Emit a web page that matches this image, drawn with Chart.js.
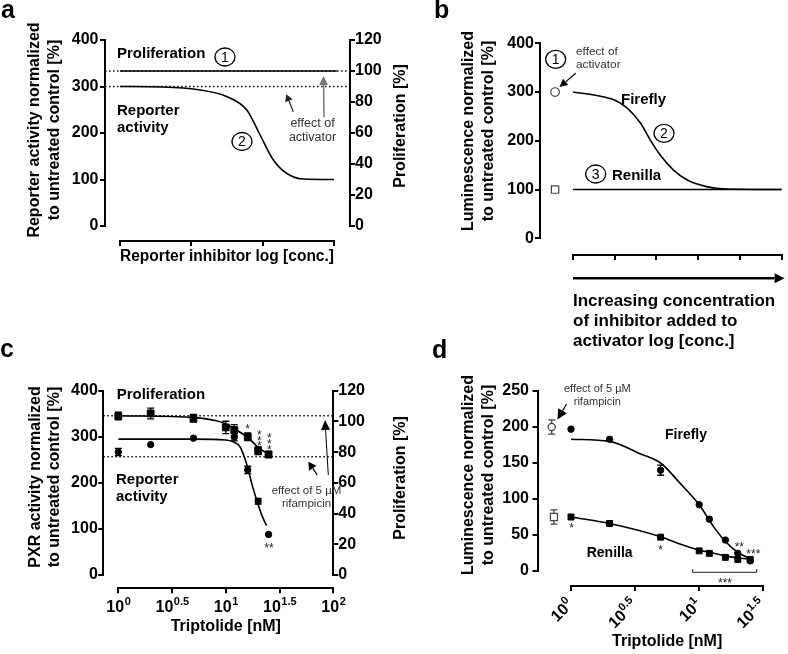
<!DOCTYPE html>
<html>
<head>
<meta charset="utf-8">
<script src="https://cdn.jsdelivr.net/npm/chart.js@4.4.0/dist/chart.umd.min.js"></script>
<style>
  html, body { margin: 0; padding: 0; background: #fff; }
  #page { position: relative; width: 788px; height: 654px; overflow: hidden; }
  canvas { position: absolute; }
</style>
</head>
<body>
<div id="page">
  <canvas id="chartA" width="420" height="320" style="left:0;top:0"></canvas>
  <canvas id="chartB" width="368" height="360" style="left:420px;top:0"></canvas>
  <canvas id="chartC" width="420" height="324" style="left:0;top:330px"></canvas>
  <canvas id="chartD" width="368" height="324" style="left:420px;top:330px"></canvas>
</div>
<script>
// ---- panel a (schematic, x in arbitrary log units) ----
const aLogConc = [0, 0.6, 1.1, 1.5, 1.78, 1.95, 2.15, 2.33, 2.57, 3];
const aReporter = [300, 299, 293, 278, 249, 200, 142, 114, 101, 100];
const aProlifSpan = [0, 3.04];
const aProlif = [100, 100];
const aRefSpan = [-0.21, 3.224];
const aActivatorLevel = 300;   // left axis
const aProlifLevel = 100;      // right axis
const aXTicks = [0, 1, 2, 3];
const aLeftTicks = [0, 100, 200, 300, 400];
const aRightTicks = [0, 20, 40, 60, 80, 100, 120];

// ---- panel b (schematic) ----
const bLogConc = [0, 0.5, 0.98, 1.3, 1.62, 1.85, 2.09, 2.41, 2.73, 3.2, 3.68, 5];
const bFirefly = [300, 294, 284, 267, 236, 202, 171, 140, 120, 106, 101, 100];
const bRenillaSpan = [0, 5];
const bRenilla = [100, 100];
const bActivatorX = [-0.43];
const bActivatorFirefly = [300];
const bActivatorRenilla = [100];
const bXTicks = [0, 1, 2, 3, 4, 5];
const bYTicks = [0, 100, 200, 300, 400];

// ---- panel c (triptolide, PXR reporter + proliferation) ----
const cDoseTicks = [1, Math.pow(10, 0.5), 10, Math.pow(10, 1.5), 100];
const cReporterDose = [1, 2, 5, 12, 16, 20, 25];
const cReporter = [267, 283, 297, 299, 228, 160, 88];
const cReporterErr = [8, 0, 0, 8, 8, 6, 0];
const cProlifDose = [1, 2, 5, 10, 12, 16, 20, 25];
const cProlif = [103.5, 105.2, 102, 96.1, 94.4, 90, 80.9, 78.5];
const cProlifErr = [2.5, 3.5, 2.5, 4, 3.5, 2.5, 2.5, 2];
const cReporterFitDose = [1, 5, 10, 11.7, 13.5, 15.1, 16.2, 17.6, 19.4, 21.6, 24];
const cReporterFit = [295, 295, 293, 289, 279, 252, 228, 195, 162, 130, 107];
const cProlifFitDose = [1, 5.1, 8.2, 10, 12, 16, 20, 25.2];
const cProlifFit = [103.7, 102.5, 100.4, 98.3, 95.2, 89.6, 83.1, 78.5];
const cRefSpan = [0.725, 100];
const cRefLevels = [103.7, 77.0];  // right axis
const cLeftTicks = [0, 100, 200, 300, 400];
const cRightTicks = [0, 20, 40, 60, 80, 100, 120];

// ---- panel d (triptolide, dual luciferase) ----
const dDoseTicks = [1, Math.pow(10, 0.5), 10, Math.pow(10, 1.5)];
const dDose = [1, 2, 5, 10, 12, 16, 20, 25];
const dFirefly = [197, 183, 140, 92, 72, 43, 24.5, 14];
const dFireflyErr = [0, 0, 7, 0, 0, 0, 0, 0];
const dRenilla = [75, 66, 47, 28, 24.5, 19, 16, 16];
const dFireflyFitDose = [1, 2, 3.45, 5, 7.08, 10, 12.9, 16, 20, 24.6];
const dFireflyFit = [183, 180, 163, 150, 122, 92, 62, 41, 26, 17.6];
const dRenillaFitDose = [1, 2, 5, 7.08, 10, 12, 16, 20, 24.6];
const dRenillaFit = [75, 66, 47.6, 37.5, 29, 26, 21, 18, 16.7];
const dRifFireflyDose = [0.707];
const dRifFirefly = [200];
const dRifRenillaDose = [0.736];
const dRifRenilla = [75];
const dRifErr = [10];
const dYTicks = [0, 50, 100, 150, 200, 250];

const FONT = "'Liberation Sans', Arial, Helvetica, sans-serif";
Chart.defaults.font.family = FONT;
Chart.defaults.color = '#000';

function xy(xs, ys) { return xs.map((x, i) => ({ x: x, y: ys[i] })); }

function valueAxis(o) {
  const vertical = o.position === 'left' || o.position === 'right';
  return {
    type: o.type || 'linear', position: o.position, min: o.min, max: o.max, weight: 1,
    afterBuildTicks: s => { s.ticks = o.ticks.map(v => ({ value: v })); },
    afterFit: s => { if (vertical) s.width = o.size; else s.height = o.size; },
    grid: { display: true, drawOnChartArea: false, drawTicks: true, tickLength: 5, lineWidth: 2, color: '#000' },
    border: { display: true, width: 2, color: '#000' },
    ticks: { display: o.labels !== false, color: '#000', font: { family: FONT, size: 16, weight: 'bold' },
      padding: o.pad === undefined ? 1.5 : o.pad, autoSkip: false, maxRotation: 0 },
    title: o.title || { display: false }
  };
}
// empty box that pushes an axis away from the plot, GraphPad style
function gap(position, size) {
  const vertical = position === 'left' || position === 'right';
  return {
    type: 'linear', position, weight: 0, axis: vertical ? 'y' : 'x',
    grid: { display: false }, border: { display: false }, ticks: { display: false },
    afterFit: s => { if (vertical) s.width = size; else s.height = size; }
  };
}
function xTitle(text, padBottom, size, lh, align) {
  return { display: true, text, align: align || 'center', color: '#000',
    font: { family: FONT, size: size || 16, weight: 'bold', lineHeight: lh || 1.2 },
    padding: { top: 0, bottom: padBottom } };
}
function curve(data, yAxisID, extra) {
  return Object.assign({ data, yAxisID, xAxisID: 'x', borderColor: '#000', borderWidth: 1.6,
    pointRadius: 0, cubicInterpolationMode: 'monotone', fill: false, clip: false }, extra || {});
}
function dotted(data, yAxisID) {
  return curve(data, yAxisID, { borderDash: [1.6, 2.4], borderWidth: 1.6, borderColor: '#111',
    cubicInterpolationMode: 'default', tension: 0 });
}
function markers(data, yAxisID, style, r, extra) {
  return Object.assign({ data, yAxisID, xAxisID: 'x', showLine: false, pointStyle: style, pointRadius: r,
    backgroundColor: '#000', borderColor: '#000', borderWidth: 1, clip: false }, extra || {});
}
// control symbols left of the dose axis (outside the plot area)
function outsideMarkers(data, style, r, errs) {
  return markers(data, 'y', style, r, { backgroundColor: '#fff', borderColor: '#444', borderWidth: 1.2,
    outside: true, errors: errs, errorColor: '#444' });
}
function options(top, right, scales) {
  return {
    responsive: false, animation: false, devicePixelRatio: 1, events: [],
    layout: { padding: { left: 0, top: top, right: right, bottom: 0 } },
    plugins: { legend: { display: false }, tooltip: { enabled: false } },
    scales
  };
}

// ---- drawing helpers (page coordinates) ----
function text(ctx, str, x, y, o) {
  o = o || {};
  ctx.save();
  ctx.font = (o.weight || 'bold') + ' ' + (o.size || 15) + 'px ' + FONT;
  ctx.fillStyle = o.color || '#000';
  ctx.textAlign = o.align || 'left';
  ctx.textBaseline = o.baseline || 'middle';
  ctx.fillText(str, x, y);
  ctx.restore();
}
function note(ctx, str, x, y, size, align) {
  text(ctx, str, x, y, { weight: 'normal', size: size, align: align || 'center', color: '#333' });
}
function vtext(ctx, lines, x, y, lh) {
  ctx.save();
  ctx.translate(x, y);
  ctx.rotate(-Math.PI / 2);
  ctx.font = 'bold 16px ' + FONT;
  ctx.fillStyle = '#000';
  ctx.textAlign = 'center';
  ctx.textBaseline = 'middle';
  lines.forEach((l, i) => ctx.fillText(l, 0, i * lh));
  ctx.restore();
}
function circled(ctx, n, x, y) {
  ctx.save();
  ctx.beginPath();
  ctx.ellipse(x, y, 10, 9, 0, 0, 2 * Math.PI);
  ctx.lineWidth = 1.3;
  ctx.strokeStyle = '#000';
  ctx.stroke();
  ctx.restore();
  text(ctx, String(n), x, y + 1, { weight: 'normal', size: 14, align: 'center' });
}
function arrow(ctx, x1, y1, x2, y2, o) {
  o = o || {};
  const len = o.head || 8, half = o.half || 4, col = o.color || '#000';
  const a = Math.atan2(y2 - y1, x2 - x1);
  const bx = x2 - len * Math.cos(a), by = y2 - len * Math.sin(a);
  ctx.save();
  ctx.strokeStyle = col; ctx.fillStyle = col; ctx.lineWidth = o.width || 1.2;
  ctx.beginPath(); ctx.moveTo(x1, y1); ctx.lineTo(bx, by); ctx.stroke();
  ctx.beginPath();
  ctx.moveTo(x2, y2);
  ctx.lineTo(bx + half * Math.sin(a), by - half * Math.cos(a));
  ctx.lineTo(bx - half * Math.sin(a), by + half * Math.cos(a));
  ctx.closePath(); ctx.fill();
  ctx.restore();
}
function stars(ctx, x, y, n, vertical) {
  ctx.save();
  ctx.font = '12px ' + FONT;
  ctx.fillStyle = '#222';
  ctx.textAlign = 'center';
  ctx.textBaseline = 'alphabetic';
  if (vertical) {
    for (let i = 0; i < n; i++) ctx.fillText('*', x, y + i * 5.8 + 7);
  } else {
    ctx.fillText('*'.repeat(n), x, y + 7);
  }
  ctx.restore();
}
function expLabel(v) { return String(Math.round(Math.log10(v) * 2) / 2); }

function drawErrorBars(chart) {
  const ctx = chart.ctx;
  chart.data.datasets.forEach(ds => {
    if (!ds.errors) return;
    const xs = chart.scales[ds.xAxisID], ys = chart.scales[ds.yAxisID];
    ctx.save();
    ctx.strokeStyle = ds.errorColor || '#000';
    ctx.lineWidth = 1.3;
    ds.data.forEach((p, j) => {
      const e = ds.errors[j];
      if (!e) return;
      const x = xs.getPixelForValue(p.x);
      const y1 = ys.getPixelForValue(p.y - e), y2 = ys.getPixelForValue(p.y + e);
      ctx.beginPath();
      ctx.moveTo(x, y1); ctx.lineTo(x, y2);
      ctx.moveTo(x - 3.5, y1); ctx.lineTo(x + 3.5, y1);
      ctx.moveTo(x - 3.5, y2); ctx.lineTo(x + 3.5, y2);
      ctx.stroke();
    });
    ctx.restore();
  });
}
// Chart.js skips points outside the chart area, so draw those ourselves
function drawOutsidePoints(chart) {
  const ctx = chart.ctx;
  chart.data.datasets.forEach(ds => {
    if (!ds.outside) return;
    const xs = chart.scales[ds.xAxisID], ys = chart.scales[ds.yAxisID];
    ds.data.forEach(p => {
      const x = xs.getPixelForValue(p.x), y = ys.getPixelForValue(p.y);
      ctx.save();
      ctx.fillStyle = ds.backgroundColor;
      ctx.strokeStyle = ds.borderColor;
      ctx.lineWidth = ds.borderWidth;
      Chart.helpers.drawPoint(ctx, { pointStyle: ds.pointStyle, radius: ds.pointRadius, rotation: 0,
        borderWidth: ds.borderWidth }, x, y);
      ctx.restore();
    });
  });
}
function panelPlugin(ox, oy, draw) {
  return {
    id: 'panelNotes',
    beforeDatasetsDraw(chart) { drawErrorBars(chart); },
    afterDatasetsDraw(chart) { drawOutsidePoints(chart); },
    afterDraw(chart) {
      const ctx = chart.ctx;
      ctx.save();
      ctx.translate(-ox, -oy);
      draw(ctx, chart, v => chart.scales.x.getPixelForValue(v) + ox);
      ctx.restore();
    }
  };
}

// ================= panel a =================
new Chart(document.getElementById('chartA'), {
  type: 'line',
  data: { datasets: [
    curve(xy(aProlifSpan, aProlif), 'y2'),
    curve(xy(aLogConc, aReporter), 'y'),
    dotted(xy(aRefSpan, aRefSpan.map(() => aActivatorLevel)), 'y'),
    dotted(xy(aRefSpan, aRefSpan.map(() => aProlifLevel)), 'y2')
  ]},
  options: options(40, 0, {
    x: valueAxis({ position: 'bottom', min: 0, max: 3, ticks: aXTicks, size: 79, labels: false,
      title: xTitle('Reporter inhibitor log [conc.]', 53.4) }),
    y: valueAxis({ position: 'left', min: 0, max: 400, ticks: aLeftTicks, size: 105 }),
    y2: valueAxis({ position: 'right', min: 0, max: 120, ticks: aRightTicks, size: 70, pad: 0 }),
    gapL: gap('left', 15), gapR: gap('right', 16), gapB: gap('bottom', 15)
  }),
  plugins: [panelPlugin(0, 0, (ctx) => {
    text(ctx, 'a', 1, 18, { size: 25, baseline: 'alphabetic' });
    vtext(ctx, ['Reporter activity normalized', 'to untreated control [%]'], 35, 130, 19.5);
    vtext(ctx, ['Proliferation [%]'], 401, 126, 19.5);
    text(ctx, 'Proliferation', 117, 54);
    circled(ctx, 1, 225, 57);
    text(ctx, 'Reporter', 117, 111);
    text(ctx, 'activity', 117, 128);
    circled(ctx, 2, 242, 141.5);
    note(ctx, 'effect of', 312.5, 124, 12.5);
    note(ctx, 'activator', 312.5, 138, 12.5);
    arrow(ctx, 293.3, 111.7, 286.3, 94.3, { head: 7, half: 4, color: '#222' });
    arrow(ctx, 324, 117.3, 323.5, 76, { head: 9, half: 4.5, color: '#777', width: 1.5 });
  })]
});

// ================= panel b =================
new Chart(document.getElementById('chartB'), {
  type: 'line',
  data: { datasets: [
    outsideMarkers(xy(bActivatorX, bActivatorFirefly), 'circle', 4.3),
    outsideMarkers(xy(bActivatorX, bActivatorRenilla), 'rect', 5.2),
    curve(xy(bLogConc, bFirefly), 'y'),
    curve(xy(bRenillaSpan, bRenilla), 'y', { cubicInterpolationMode: 'default' })
  ]},
  options: options(43.3, 6, {
    x: valueAxis({ position: 'bottom', min: 0, max: 5, ticks: bXTicks, size: 105, labels: false,
      title: xTitle(['Increasing concentration', 'of inhibitor added to', 'activator log [conc.]'], 8.3, 17, 20 / 17, 'start') }),
    y: valueAxis({ position: 'left', min: 0, max: 400, ticks: bYTicks, size: 120, pad: 1 }),
    gapL: gap('left', 33), gapB: gap('bottom', 16.7)
  }),
  plugins: [panelPlugin(420, 0, (ctx, chart, X) => {
    text(ctx, 'b', 434, 18, { size: 25, baseline: 'alphabetic' });
    vtext(ctx, ['Luminescence normalized', 'to untreated control [%]'], 469, 131, 19.7);
    arrow(ctx, X(0), 278.3, X(5) + 3, 278.3, { head: 10, half: 5, width: 2.6 });
    circled(ctx, 1, 555.7, 59.3);
    note(ctx, 'effect of', 576, 51.7, 11.8, 'left');
    note(ctx, 'activator', 576, 65, 11.8, 'left');
    arrow(ctx, 575.7, 73.3, 559.5, 87, { head: 8, half: 4 });
    text(ctx, 'Firefly', 621, 100);
    circled(ctx, 2, 664, 133.3);
    circled(ctx, 3, 595.7, 174);
    text(ctx, 'Renilla', 612, 176);
  })]
});

// ================= panel c =================
new Chart(document.getElementById('chartC'), {
  type: 'line',
  data: { datasets: [
    Object.assign(markers(xy(cProlifDose, cProlif), 'y2', 'rect', 4.8), { errors: cProlifErr }),
    Object.assign(markers(xy(cReporterDose, cReporter), 'y', 'circle', 3.2), { errors: cReporterErr }),
    curve(xy(cProlifFitDose, cProlifFit), 'y2'),
    curve(xy(cReporterFitDose, cReporterFit), 'y'),
    dotted(xy(cRefSpan, cRefSpan.map(() => cRefLevels[0])), 'y2'),
    dotted(xy(cRefSpan, cRefSpan.map(() => cRefLevels[1])), 'y2')
  ]},
  options: options(60.7, 0, {
    x: valueAxis({ type: 'logarithmic', position: 'bottom', min: 1, max: 100, ticks: cDoseTicks, size: 65.7,
      labels: false, title: xTitle('Triptolide [nM]', 17.4) }),
    y: valueAxis({ position: 'left', min: 0, max: 400, ticks: cLeftTicks, size: 103.3, pad: 0.5 }),
    y2: valueAxis({ position: 'right', min: 0, max: 120, ticks: cRightTicks, size: 86.7, pad: 0 }),
    gapL: gap('left', 15), gapB: gap('bottom', 13.3)
  }),
  plugins: [panelPlugin(0, 330, (ctx, chart, X) => {
    text(ctx, 'c', 0, 357, { size: 25, baseline: 'alphabetic' });
    vtext(ctx, ['PXR activity normalized', 'to untreated control [%]'], 35.5, 477, 19);
    vtext(ctx, ['Proliferation [%]'], 401, 478, 19);
    // log tick labels 10^n
    cDoseTicks.forEach(v => {
      const e = expLabel(v);
      ctx.save();
      ctx.font = 'bold 16px ' + FONT;
      const wb = ctx.measureText('10').width;
      ctx.font = 'bold 11px ' + FONT;
      const ws = ctx.measureText(e).width;
      const x0 = X(v) - (wb + ws) / 2;
      ctx.restore();
      text(ctx, '10', x0, 611.5, { size: 16, baseline: 'alphabetic' });
      text(ctx, e, x0 + wb + 0.5, 604.5, { size: 11, baseline: 'alphabetic' });
    });
    text(ctx, 'Proliferation', 116.7, 395);
    text(ctx, 'Reporter', 116, 480);
    text(ctx, 'activity', 116, 497);
    note(ctx, 'effect of 5 \u00b5M', 306.5, 491, 11.5);
    note(ctx, 'rifampicin', 306.5, 504.3, 11.5);
    arrow(ctx, 328.3, 475, 325, 420, { head: 10, half: 4.5, width: 1 });
    arrow(ctx, 317.3, 475, 308.3, 461.7, { head: 8, half: 4.5, width: 1.3 });
    stars(ctx, 247.7, 426, 1, true);
    stars(ctx, 259.3, 431.7, 3, true);
    stars(ctx, 269.3, 435, 3, true);
    stars(ctx, 269, 545, 2, false);
  })]
});

// ================= panel d =================
new Chart(document.getElementById('chartD'), {
  type: 'line',
  data: { datasets: [
    outsideMarkers(xy(dRifFireflyDose, dRifFirefly), 'circle', 3.6, dRifErr),
    outsideMarkers(xy(dRifRenillaDose, dRifRenilla), 'rect', 5, dRifErr),
    Object.assign(markers(xy(dDose, dFirefly), 'y', 'circle', 3.2), { errors: dFireflyErr }),
    markers(xy(dDose, dRenilla), 'y', 'rect', 4.2),
    curve(xy(dFireflyFitDose, dFireflyFit), 'y'),
    curve(xy(dRenillaFitDose, dRenillaFit), 'y')
  ]},
  options: options(61, 24.7, {
    x: valueAxis({ type: 'logarithmic', position: 'bottom', min: 1, max: Math.pow(10, 1.5), ticks: dDoseTicks,
      size: 68, labels: false, title: xTitle('Triptolide [nM]', 2.4) }),
    y: valueAxis({ position: 'left', min: 0, max: 250, ticks: dYTicks, size: 117.5, pad: 3.5 }),
    gapL: gap('left', 33.5), gapB: gap('bottom', 15)
  }),
  plugins: [panelPlugin(420, 330, (ctx, chart, X) => {
    text(ctx, 'd', 432, 358, { size: 25, baseline: 'alphabetic' });
    vtext(ctx, ['Luminescence normalized', 'to untreated control [%]'], 469, 475, 19.7);
    // rotated log tick labels
    dDoseTicks.forEach(v => {
      const e = expLabel(v);
      ctx.save();
      ctx.translate(X(v), 602.5);
      ctx.rotate(-Math.PI / 4);
      ctx.fillStyle = '#000';
      ctx.textBaseline = 'middle';
      ctx.textAlign = 'left';
      ctx.font = 'bold 16px ' + FONT;
      const wb = ctx.measureText('10').width;
      ctx.font = 'bold 11px ' + FONT;
      const ws = ctx.measureText(e).width;
      ctx.font = 'bold 16px ' + FONT;
      ctx.fillText('10', -(wb + ws), 0);
      ctx.font = 'bold 11px ' + FONT;
      ctx.fillText(e, -ws, -5.5);
      ctx.restore();
    });
    text(ctx, 'Firefly', 665, 435, { size: 14 });
    text(ctx, 'Renilla', 586.7, 553.3, { size: 14 });
    note(ctx, 'effect of 5 \u00b5M', 597.3, 389.3, 11);
    note(ctx, 'rifampicin', 597.3, 401.5, 11);
    arrow(ctx, 566.5, 404, 557.5, 419.5, { head: 10, half: 5, width: 1.2 });
    stars(ctx, 571.7, 525, 1, false);
    stars(ctx, 660.7, 546.7, 1, false);
    stars(ctx, 739.3, 544, 2, false);
    stars(ctx, 753.3, 550.7, 3, false);
    // bracket over the high-dose points
    ctx.save();
    ctx.strokeStyle = '#222';
    ctx.lineWidth = 1;
    ctx.beginPath();
    ctx.moveTo(692.7, 569); ctx.lineTo(692.7, 572.3); ctx.lineTo(756.7, 572.3); ctx.lineTo(756.7, 569);
    ctx.stroke();
    ctx.restore();
    stars(ctx, 725, 580, 3, false);
  })]
});
</script>
</body>
</html>
